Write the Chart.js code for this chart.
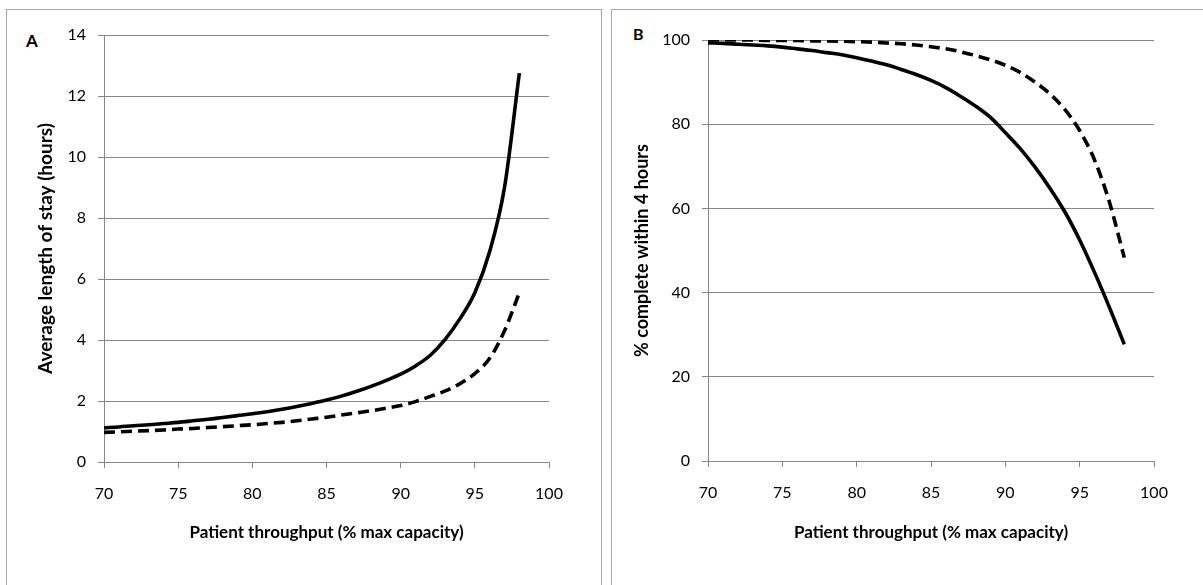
<!DOCTYPE html>
<html>
<head>
<meta charset="utf-8">
<script src="https://cdn.jsdelivr.net/npm/chart.js@4.4.0/dist/chart.umd.min.js"></script>
<style>
  html, body { margin: 0; padding: 0; background: #fff; overflow: hidden; }
  body { width: 1203px; height: 585px; position: relative; font-family: Lato, "Noto Sans", sans-serif; }
  .frame { position: absolute; border: 1px solid #a6a6a6; box-sizing: border-box; }
  .panel-letter { position: absolute; font-weight: bold; font-size: 16px; line-height: 16px; color: #000; }
  canvas { position: absolute; top: 0; }
</style>
</head>
<body>
<div class="frame" style="left:6px; top:9px; width:596px; height:620px;"></div>
<div class="frame" style="left:611px; top:9px; width:620px; height:620px;"></div>
<div class="panel-letter" style="left:26px; top:33px; font-size:17px;">A</div>
<div class="panel-letter" style="left:633px; top:26px;">B</div>
<canvas id="chart-a" style="left:0;"></canvas>
<canvas id="chart-b" style="left:601px;"></canvas>
<script>
  "use strict";

  // Patient throughput (% max capacity)
  const throughput = [70, 71, 72, 73, 74, 75, 76, 77, 78, 79, 80, 81, 82, 83, 84,
    85, 86, 87, 88, 89, 90, 91, 92, 93, 94, 95, 96, 97, 98];

  // Panel A: average length of stay (hours)
  const stayA = [1.12, 1.15, 1.19, 1.22, 1.26, 1.30, 1.35, 1.40, 1.46, 1.52, 1.58,
    1.65, 1.73, 1.82, 1.92, 2.03, 2.16, 2.31, 2.48, 2.67, 2.88, 3.15, 3.50, 4.02,
    4.70, 5.55, 6.90, 9.00, 12.75];
  const stayDashed = [0.97, 0.99, 1.01, 1.03, 1.05, 1.08, 1.10, 1.13, 1.16, 1.19,
    1.22, 1.26, 1.30, 1.35, 1.41, 1.47, 1.54, 1.61, 1.68, 1.76, 1.85, 1.98, 2.15,
    2.33, 2.57, 2.90, 3.40, 4.30, 5.55];

  // Panel B: % complete within 4 hours
  const within4h = [99.3, 99.2, 99.0, 98.8, 98.6, 98.3, 97.9, 97.5, 97.0, 96.5,
    95.8, 95.0, 94.1, 93.0, 91.8, 90.4, 88.7, 86.6, 84.3, 81.6, 78.0, 74.2, 69.8,
    64.8, 59.2, 52.5, 44.8, 36.5, 27.7];
  const within4hDashed = [100, 100, 100, 100, 99.9, 99.9, 99.9, 99.8, 99.8, 99.7,
    99.6, 99.5, 99.3, 99.1, 98.8, 98.4, 97.9, 97.2, 96.3, 95.3, 94.0, 92.3, 90.0,
    87.2, 83.5, 78.5, 71.5, 61.5, 48.3];

  const xTicks = [70, 75, 80, 85, 90, 95, 100];
  const yTicksA = [0, 2, 4, 6, 8, 10, 12, 14];
  const yTicksB = [0, 20, 40, 60, 80, 100];

  const GRID = "#878787";
  const FONT = "Lato, 'Noto Sans', sans-serif";

  const toPoints = (ys) => throughput.map((x, i) => ({ x: x, y: ys[i] }));

  const lineSet = (ys, dashed) => ({
    data: toPoints(ys),
    borderColor: "#000",
    borderWidth: 3.6,
    borderDash: dashed ? [11, 6] : [],
    pointRadius: 0,
    fill: false,
    cubicInterpolationMode: "monotone",
  });

  function makeChart(id, cfg) {
    const canvas = document.getElementById(id);
    canvas.width = cfg.width;
    canvas.height = 585;
    canvas.style.width = cfg.width + "px";
    canvas.style.height = "585px";

    return new Chart(canvas, {
      type: "line",
      data: {
        datasets: [lineSet(cfg.solid, false), lineSet(cfg.dashed, true)],
      },
      options: {
        responsive: false,
        animation: false,
        events: [],
        layout: {
          padding: { left: 0, right: cfg.padRight, top: cfg.padTop, bottom: 0 },
        },
        plugins: {
          legend: { display: false },
          tooltip: { enabled: false },
        },
        scales: {
          x: {
            type: "linear",
            min: 70,
            max: 100,
            afterBuildTicks: (scale) => {
              scale.ticks = xTicks.map((v) => ({ value: v }));
            },
            afterFit: (scale) => {
              scale.height = cfg.xHeight;
            },
            grid: {
              drawOnChartArea: false,
              drawTicks: true,
              tickLength: 6,
              color: GRID,
            },
            border: { color: GRID, width: 1 },
            ticks: {
              color: "#000",
              padding: 16,
              maxRotation: 0,
              font: { family: FONT, size: 16 },
            },
            title: {
              display: true,
              text: "Patient throughput (% max capacity)",
              color: "#000",
              font: { family: FONT, size: 17, weight: "bold" },
              padding: { top: 0, bottom: 42 },
            },
          },
          y: {
            type: "linear",
            min: 0,
            max: cfg.yMax,
            afterBuildTicks: (scale) => {
              scale.ticks = cfg.yTicks.map((v) => ({ value: v }));
            },
            afterFit: (scale) => {
              scale.width = cfg.yWidth;
            },
            grid: {
              drawTicks: true,
              tickLength: 6,
              color: GRID,
            },
            border: { color: GRID, width: 1 },
            ticks: {
              color: "#000",
              padding: 12,
              font: { family: FONT, size: 16 },
            },
            title: {
              display: true,
              text: cfg.yTitle,
              color: "#000",
              font: { family: FONT, size: cfg.yTitleSize, weight: "bold" },
              padding: { top: cfg.yTitlePad, bottom: 0 },
            },
          },
        },
      },
    });
  }

  makeChart("chart-a", {
    width: 601,
    solid: stayA,
    dashed: stayDashed,
    yMax: 14,
    yTicks: yTicksA,
    yTitle: "Average length of stay (hours)",
    yTitleSize: 19,
    yWidth: 104,
    yTitlePad: 34,
    padRight: 52,
    padTop: 35,
    xHeight: 123,
  });

  makeChart("chart-b", {
    width: 602,
    solid: within4h,
    dashed: within4hDashed,
    yMax: 100,
    yTicks: yTicksB,
    yTitle: "% complete within 4 hours",
    yTitleSize: 18,
    yWidth: 107,
    yTitlePad: 30,
    padRight: 49,
    padTop: 40,
    xHeight: 124,
  });
</script>
</body>
</html>
